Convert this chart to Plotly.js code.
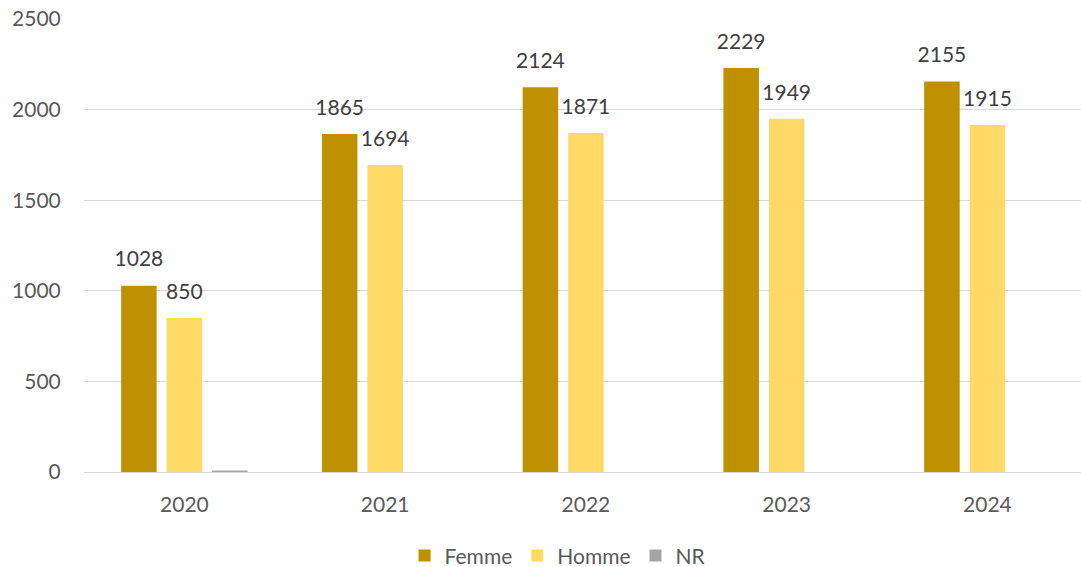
<!DOCTYPE html>
<html>
<head>
<meta charset="utf-8">
<script src="https://cdn.plot.ly/plotly-3.0.1.min.js"></script>
<style>html,body{margin:0;padding:0;background:#fff;}#chart{width:1081px;height:567px;}</style>
</head>
<body>
<div id="chart"></div>
<script>
const years = ['2020', '2021', '2022', '2023', '2024'];
const femme = [1028, 1865, 2124, 2229, 2155];
const homme = [850, 1694, 1871, 1949, 1915];
const nr = [8, 0, 0, 0, 0];
const yTicks = [0, 500, 1000, 1500, 2000, 2500];

const font = 'Lato, "Open Sans", sans-serif';
const labelTpl = '<span style="font-size:21px">%{y}</span><br> ';

const traces = [
  {type: 'bar', name: 'Femme', x: years, y: femme, marker: {color: '#BF9000'},
   texttemplate: labelTpl, textposition: 'outside', cliponaxis: false, constraintext: 'none',
   textfont: {family: font, size: 11, color: '#404040'}, hoverinfo: 'none'},
  {type: 'bar', name: 'Homme', x: years, y: homme, marker: {color: '#FFD966'},
   texttemplate: labelTpl, textposition: 'outside', cliponaxis: false, constraintext: 'none',
   textfont: {family: font, size: 11, color: '#404040'}, hoverinfo: 'none'},
  {type: 'bar', name: 'NR', x: years, y: nr, marker: {color: '#A5A5A5'},
   hoverinfo: 'none'}
];

const layout = {
  width: 1081, height: 567,
  margin: {l: 84, r: 0, t: 19, b: 95, autoexpand: false},
  paper_bgcolor: '#fff', plot_bgcolor: '#fff',
  font: {family: font, size: 20, color: '#595959'},
  barmode: 'group', bargap: 0.32, bargroupgap: 0.22,
  showlegend: true,
  legend: {orientation: 'h', x: 0.475, xanchor: 'center', y: -0.185, yanchor: 'middle',
           font: {family: font, size: 21, color: '#595959'}, itemwidth: 30, traceorder: 'normal'},
  xaxis: {type: 'category', range: [-0.5, 4.466], showgrid: false, showline: true, linecolor: '#D9D9D9', linewidth: 1,
          ticks: 'outside', ticklen: 14, tickcolor: 'rgba(0,0,0,0)', zeroline: false,
          tickfont: {family: font, size: 21, color: '#595959'}},
  yaxis: {range: [0, 2500], tickvals: yTicks, showgrid: true, gridcolor: '#D9D9D9', gridwidth: 1,
          zeroline: false, showline: false, ticks: 'outside', ticklen: 18, tickcolor: 'rgba(0,0,0,0)',
          tickfont: {family: font, size: 21, color: '#595959'}}
};

Plotly.newPlot('chart', traces, layout, {displayModeBar: false, staticPlot: true});
</script>
</body>
</html>
